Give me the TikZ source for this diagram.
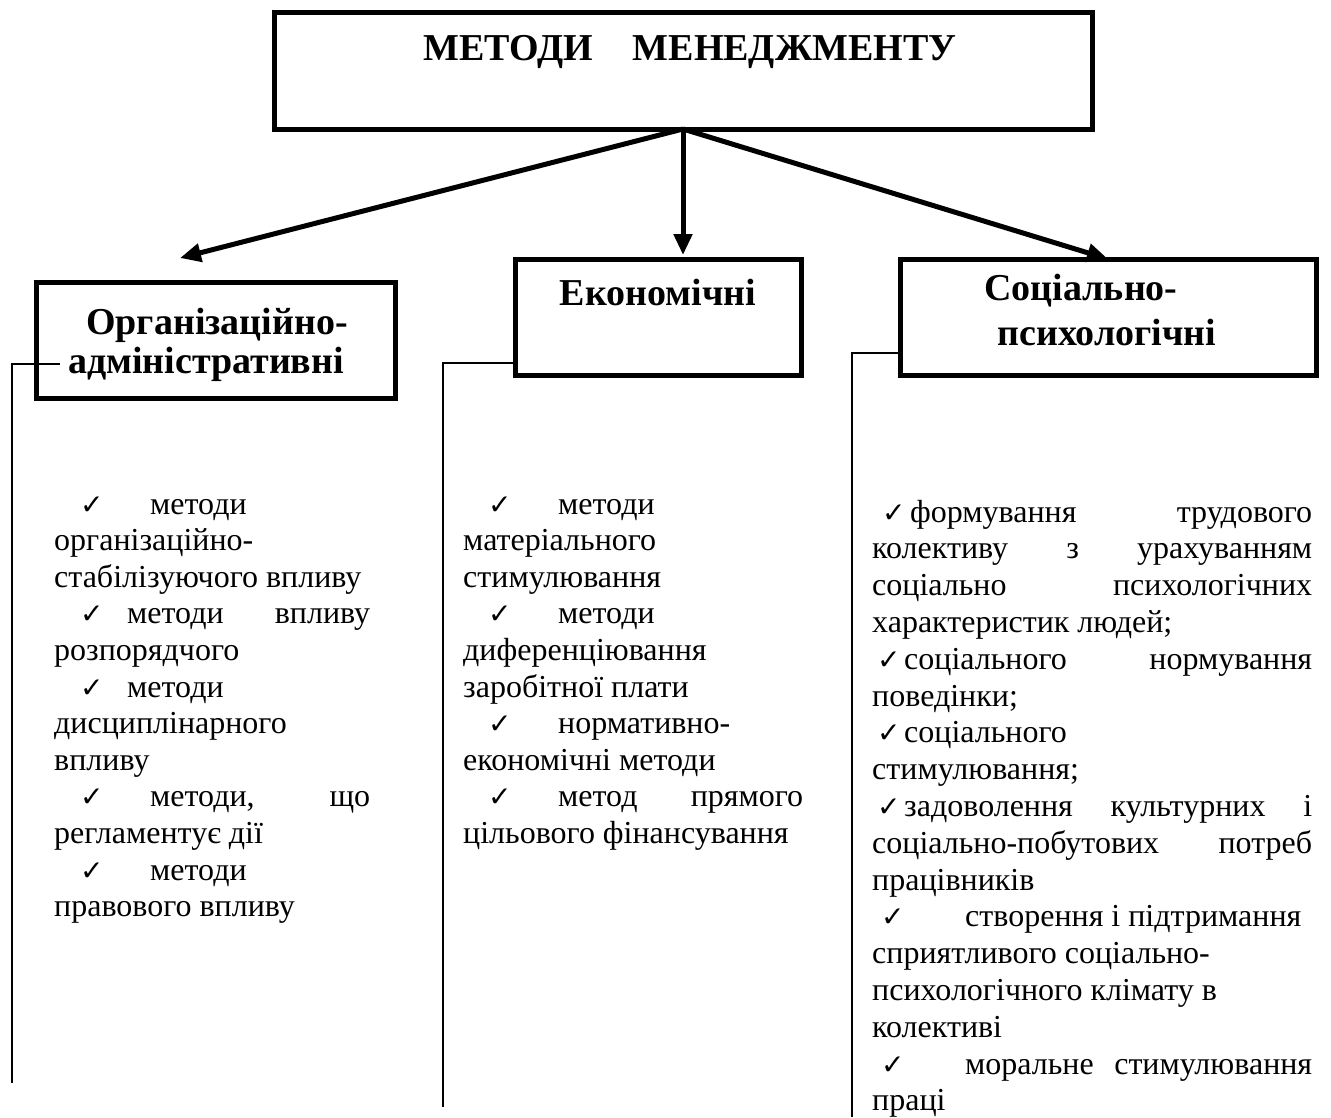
\documentclass[tikz,border=0pt]{standalone}
\usepackage{fontspec}
\setmainfont{Liberation Serif}
\newfontfamily\ckfont{DejaVu Sans}
\usetikzlibrary{arrows.meta}
\newcommand{\ck}{{\ckfont\fontsize{28}{28}\selectfont ✓}}
\newcommand{\ckat}[1]{\rlap{\hskip#1\relax\ck}}
\newcommand{\tline}[1]{\hbox to\hsize{#1}}
\begin{document}
\begin{tikzpicture}[x=1pt,y=-1pt,
  box/.style={draw, line width=5pt, inner sep=0pt, outer sep=0pt},
  head/.style={font=\bfseries\fontsize{38}{38}\selectfont, inner sep=0pt, anchor=base},
  body/.style={font=\fontsize{32}{36.6}\selectfont, inner sep=0pt, anchor=base west},
  arr/.style={line width=5pt, -{Triangle[length=21pt,width=18pt]}},
  bracket/.style={line width=2pt}]
\useasboundingbox (0,0) rectangle (1331,1117);

% boxes
\node[box, minimum width=818pt, minimum height=117pt] (top) at (683,70.5) {};
\node[box, minimum width=359pt, minimum height=116pt] (org) at (215.5,340) {};
\node[box, minimum width=286pt, minimum height=116pt] (econ) at (658,317) {};
\node[box, minimum width=416pt, minimum height=116pt] (soc) at (1108,317) {};

% box texts
\node[head] (ttl) at (690,60) {МЕТОДИ\hspace{40pt}МЕНЕДЖМЕНТУ};
\node[head] (org1) at (217,334) {Організаційно-};
\node[head] (org2) at (206,373) {адміністративні};
\node[head] (econ1) at (658,305) {Економічні};
\node[head] (soc1) at (1081,300) {Соціально-};
\node[head] (soc2) at (1107,345) {психологічні};

% arrows
\coordinate (aL) at (180,258);
\coordinate (aM) at (683,255);
\draw[arr] (top.south) -- (aL);
\draw[arr] (top.south) -- (aM);
\draw[arr] (top.south) -- (soc.north);

% brackets
\coordinate (oS) at (60,364);
\coordinate (oE) at (12,1083);
\coordinate (eS) at (513,363);
\coordinate (eE) at (443,1107);
\coordinate (sS) at (898,353);
\coordinate (sE) at (852,1117);
\draw[bracket] (oS) -| (oE);
\draw[bracket] (eS) -| (eE);
\draw[bracket] (sS) -| (sE);

% columns
\node[body] (leftcol) at (54,514) {\vtop{\hsize=316pt\parindent=0pt\baselineskip=36.6pt\lineskiplimit=-100pt\lineskip=0pt
\tline{\ckat{26pt}\hskip96pt методи\hfil}
\tline{організаційно-\hfil}
\tline{стабілізуючого впливу\hfil}
\tline{\ckat{26pt}\hskip73pt методи\hfill впливу}
\tline{розпорядчого\hfil}
\tline{\ckat{26pt}\hskip73pt методи\hfil}
\tline{дисциплінарного\hfil}
\tline{впливу\hfil}
\tline{\ckat{26pt}\hskip96pt методи,\hfill що}
\tline{регламентує дії\hfil}
\tline{\ckat{26pt}\hskip96pt методи\hfil}
\tline{правового впливу\hfil}
}};

\node[body] (midcol) at (463,514) {\vtop{\hsize=340pt\parindent=0pt\baselineskip=36.6pt\lineskiplimit=-100pt\lineskip=0pt
\tline{\ckat{25pt}\hskip95pt методи\hfil}
\tline{матеріального\hfil}
\tline{стимулювання\hfil}
\tline{\ckat{25pt}\hskip95pt методи\hfil}
\tline{диференціювання\hfil}
\tline{заробітної плати\hfil}
\tline{\ckat{25pt}\hskip95pt нормативно-\hfil}
\tline{економічні методи\hfil}
\tline{\ckat{25pt}\hskip95pt метод\hfill прямого}
\tline{цільового фінансування\hfil}
}};

\node[body] (rightcol) at (872,522) {\vtop{\hsize=440pt\parindent=0pt\baselineskip=36.8pt\lineskiplimit=-100pt\lineskip=0pt
\tline{\ckat{10pt}\hskip38pt формування\hfill трудового}
\tline{колективу\hfill з\hfill урахуванням}
\tline{соціально\hfill психологічних}
\tline{характеристик людей;\hfil}
\tline{\ckat{5pt}\hskip32pt соціального\hfill нормування}
\tline{поведінки;\hfil}
\tline{\ckat{5pt}\hskip32pt соціального\hfil}
\tline{стимулювання;\hfil}
\tline{\ckat{5pt}\hskip32pt задоволення\hfill культурних\hfill і}
\tline{соціально-побутових\hfill потреб}
\tline{працівників\hfil}
\tline{\ckat{9pt}\hskip93pt створення і підтримання\hfil}
\tline{сприятливого соціально-\hfil}
\tline{психологічного клімату в\hfil}
\tline{колективі\hfil}
\tline{\ckat{9pt}\hskip93pt моральне\hfill стимулювання}
\tline{праці\hfil}
}};
\end{tikzpicture}
\end{document}
